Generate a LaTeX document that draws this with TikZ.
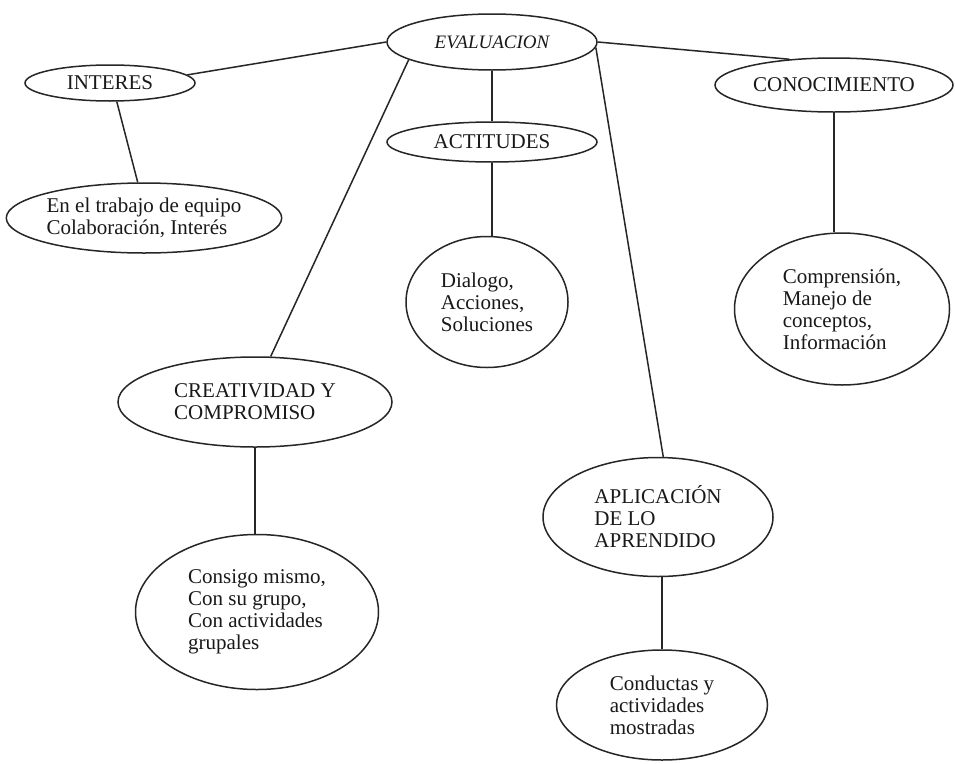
\documentclass[tikz,border=0pt]{standalone}
\usepackage{fontspec}
\setmainfont{Liberation Serif}
\usetikzlibrary{shapes.geometric}

\begin{document}
\begin{tikzpicture}[x=1pt, y=-1pt,
    concepto/.style={ellipse, draw=black!85, line width=1.5pt, inner sep=0pt, align=left, text=black!90, font=\fontsize{21}{22}\selectfont},
    enlace/.style={draw=black!85, line width=1.5pt}]
    \useasboundingbox[fill=white] (0,0) rectangle (955,763);

    % Nodes
    \node[concepto, minimum width=210pt, minimum height=56pt, font=\fontsize{19}{20}\selectfont\itshape] (eval) at (492,42) {EVALUACION};
    \node[concepto, minimum width=170pt, minimum height=36pt] (interes) at (110,83) {INTERES};
    \node[concepto, minimum width=265pt, minimum height=70pt] (trabajo) at (144,218) {En el trabajo de equipo\\Colaboración, Interés};
    \node[concepto, minimum width=210pt, minimum height=40pt] (actitudes) at (492,142) {ACTITUDES};
    \node[concepto, minimum width=162pt, minimum height=131pt] (dialogo) at (487,302) {Dialogo,\\Acciones,\\Soluciones};
    \node[concepto, minimum width=238pt, minimum height=54pt] (conoc) at (834,85) {CONOCIMIENTO};
    \node[concepto, minimum width=215pt, minimum height=152pt] (compr) at (842,309) {Comprensión,\\Manejo de\\conceptos,\\Información};
    \node[concepto, minimum width=274pt, minimum height=90pt] (creat) at (255,402) {CREATIVIDAD Y\\COMPROMISO};
    \node[concepto, minimum width=243pt, minimum height=155pt] (consigo) at (257,612) {Consigo mismo,\\Con su grupo,\\Con actividades\\grupales};
    \node[concepto, minimum width=230pt, minimum height=119pt] (aplic) at (658,517) {APLICACIÓN\\DE LO\\APRENDIDO};
    \node[concepto, minimum width=211pt, minimum height=110pt] (conduct) at (662,705) {Conductas y\\actividades\\mostradas};

    % Edges
    \draw[enlace] (eval.west) -- (interes.6);
    \draw[enlace] (eval) -- (actitudes);
    \draw[enlace] (eval.192) -- (creat.71);
    \draw[enlace] (eval.east) -- (conoc.150);
    \draw[enlace] (eval.357) -- (aplic.85);
    \draw[enlace] (interes.290) -- (trabajo.100);
    \draw[enlace] (actitudes.south) -- (actitudes.south |- dialogo.north);
    \draw[enlace] (conoc.south) -- (conoc.south |- compr.north);
    \draw[enlace] (creat.south) -- (creat.south |- consigo.north);
    \draw[enlace] (conduct.north |- aplic.south) -- (conduct.north);

\end{tikzpicture}
\end{document}
